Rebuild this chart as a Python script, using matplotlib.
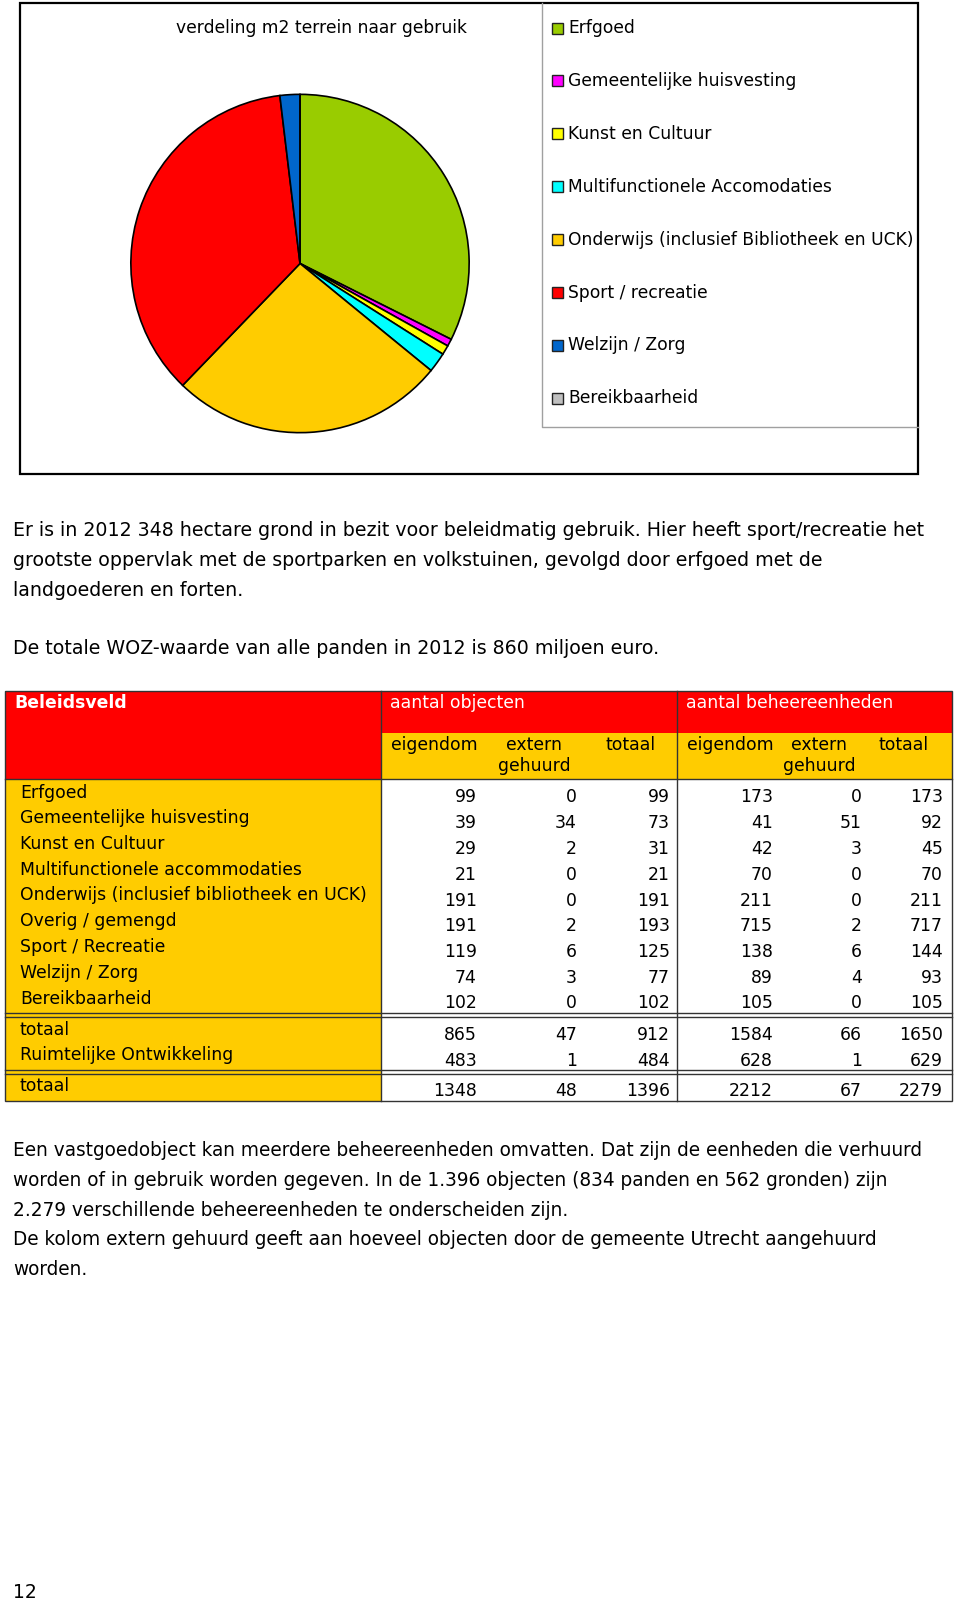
import matplotlib
matplotlib.use('Agg')
from matplotlib import pyplot as plt
from matplotlib.patches import Rectangle

# pie: share of m2 terrain per use (percent)
pie_labels = ['Erfgoed', 'Gemeentelijke huisvesting', 'Kunst en Cultuur',
              'Multifunctionele Accomodaties', 'Onderwijs (inclusief Bibliotheek en UCK)',
              'Sport / recreatie', 'Welzijn / Zorg', 'Bereikbaarheid']
pie_values = [32.4, 0.7, 0.9, 1.9, 26.3, 35.9, 1.9, 0.0]
pie_colors = ['#99CC00', '#FF00FF', '#FFFF00', '#00FFFF', '#FFCC00', '#FF0000', '#0066CC', '#C0C0C0']

# table
row_labels = ['Erfgoed', 'Gemeentelijke huisvesting', 'Kunst en Cultuur',
              'Multifunctionele accommodaties', 'Onderwijs (inclusief bibliotheek en UCK)',
              'Overig / gemengd', 'Sport / Recreatie', 'Welzijn / Zorg', 'Bereikbaarheid']
obj_eigendom = [99, 39, 29, 21, 191, 191, 119, 74, 102]
obj_extern = [0, 34, 2, 0, 0, 2, 6, 3, 0]
obj_totaal = [99, 73, 31, 21, 191, 193, 125, 77, 102]
beh_eigendom = [173, 41, 42, 70, 211, 715, 138, 89, 105]
beh_extern = [0, 51, 3, 0, 0, 2, 6, 4, 0]
beh_totaal = [173, 92, 45, 70, 211, 717, 144, 93, 105]

sub_labels = ['totaal', 'Ruimtelijke Ontwikkeling']
sub_values = [[865, 47, 912, 1584, 66, 1650],
              [483, 1, 484, 628, 1, 629]]
grand_label = 'totaal'
grand_values = [1348, 48, 1396, 2212, 67, 2279]

group_titles = ['aantal objecten', 'aantal beheereenheden']
sub_headers = ['eigendom', 'extern\ngehuurd', 'totaal']

para1 = ['Er is in 2012 348 hectare grond in bezit voor beleidmatig gebruik. Hier heeft sport/recreatie het',
         'grootste oppervlak met de sportparken en volkstuinen, gevolgd door erfgoed met de',
         'landgoederen en forten.']
para2 = 'De totale WOZ-waarde van alle panden in 2012 is 860 miljoen euro.'
para3 = ['Een vastgoedobject kan meerdere beheereenheden omvatten. Dat zijn de eenheden die verhuurd',
         'worden of in gebruik worden gegeven. In de 1.396 objecten (834 panden en 562 gronden) zijn',
         '2.279 verschillende beheereenheden te onderscheiden zijn.',
         'De kolom extern gehuurd geeft aan hoeveel objecten door de gemeente Utrecht aangehuurd',
         'worden.']

RED = '#FF0000'
YEL = '#FFCC00'
LINE = '#333333'

plt.rcParams['font.family'] = ['DejaVu Sans']
fig = plt.figure(figsize=(9.6, 16), dpi=100)
fig.patch.set_facecolor('white')

# page axes in pixel coordinates
ax = fig.add_axes([0, 0, 1, 1])
ax.set_xlim(0, 960)
ax.set_ylim(1600, 0)
ax.axis('off')

# chart frame + legend frame
ax.add_patch(Rectangle((20, 3), 898, 471, fill=False, edgecolor='black', lw=1.6))
ax.plot([542, 542, 918], [3, 427, 427], color='#A0A0A0', lw=1)
ax.text(321, 28, 'verdeling m2 terrein naar gebruik', ha='center', va='center', fontsize=12.35)

for i, (name, col) in enumerate(zip(pie_labels, pie_colors)):
    y = 28 + i * 52.9
    ax.add_patch(Rectangle((551.5, y - 5.5), 11, 11, facecolor=col, edgecolor='#222222', lw=1))
    ax.text(568, y, name, ha='left', va='center', fontsize=12.35)

# pie
cx, cy, r = 300, 263.5, 170
pax = fig.add_axes([(cx - r) / 960, 1 - (cy + r) / 1600, 2 * r / 960, 2 * r / 1600])
pax.pie(pie_values, colors=pie_colors, startangle=90, counterclock=False,
        wedgeprops=dict(edgecolor='black', linewidth=1.2))
pax.set_xlim(-1.005, 1.005)
pax.set_ylim(-1.005, 1.005)
pax.axis('off')

# paragraphs
for i, line in enumerate(para1):
    ax.text(13, 531 + i * 29.6, line, ha='left', va='center', fontsize=13.65)
ax.text(13, 649, para2, ha='left', va='center', fontsize=13.65)

# table
L, R, C1, C2 = 5, 952, 381, 677
TOP, H1, H2 = 691, 733, 779
B1, B2, BOT = 1015, 1072, 1101
num_x = [477, 577, 670, 773, 862, 943]
fs = 12.4

ax.add_patch(Rectangle((L, TOP), C1 - L, H2 - TOP, facecolor=RED, lw=0))
ax.add_patch(Rectangle((C1, TOP), R - C1, H1 - TOP, facecolor=RED, lw=0))
ax.add_patch(Rectangle((C1, H1), R - C1, H2 - H1, facecolor=YEL, lw=0))
ax.add_patch(Rectangle((L, H2), C1 - L, BOT - H2, facecolor=YEL, lw=0))

ax.text(14, 703, 'Beleidsveld', color='white', fontweight='bold', ha='left', va='center', fontsize=fs)
for g, (title, gx) in enumerate(zip(group_titles, [C1, C2])):
    ax.text(gx + 9, 703, title, color='white', ha='left', va='center', fontsize=fs)
    ax.text(gx + 10, 745, sub_headers[0], ha='left', va='center', fontsize=fs)
    ax.text(num_x[3 * g + 1] - 43, 755.5, sub_headers[1], ha='center', va='center',
            fontsize=fs, linespacing=1.2)
    ax.text(num_x[3 * g + 2] - 14, 745, sub_headers[2], ha='right', va='center', fontsize=fs)

body = list(zip(obj_eigendom, obj_extern, obj_totaal, beh_eigendom, beh_extern, beh_totaal))
for i, (lab, vals) in enumerate(zip(row_labels, body)):
    y = 797.5 + i * 25.75
    ax.text(20, y - 5, lab, ha='left', va='center', fontsize=fs)
    for x, v in zip(num_x, vals):
        ax.text(x, y, str(v), ha='right', va='center', fontsize=fs)

for i, (lab, vals) in enumerate(zip(sub_labels, sub_values)):
    y = 1035 + i * 25.5
    ax.text(20, y - 5, lab, ha='left', va='center', fontsize=fs)
    for x, v in zip(num_x, vals):
        ax.text(x, y, str(v), ha='right', va='center', fontsize=fs)

ax.text(20, 1086, grand_label, ha='left', va='center', fontsize=fs)
for x, v in zip(num_x, grand_values):
    ax.text(x, 1091, str(v), ha='right', va='center', fontsize=fs)

# table lines
ax.add_patch(Rectangle((L, TOP), R - L, BOT - TOP, fill=False, edgecolor=LINE, lw=1))
ax.plot([C1, C1], [TOP, BOT], color=LINE, lw=1)
ax.plot([C2, C2], [TOP, BOT], color=LINE, lw=1)
ax.plot([L, R], [H2, H2], color=LINE, lw=1)
for yb in (B1, B2):
    ax.plot([L, R], [yb - 1.7, yb - 1.7], color=LINE, lw=1)
    ax.plot([L, R], [yb + 1.7, yb + 1.7], color=LINE, lw=1)

for i, line in enumerate(para3):
    ax.text(13, 1151 + i * 29.6, line, ha='left', va='center', fontsize=13.35)

ax.text(13, 1592, '12', ha='left', va='center', fontsize=13.5)

fig.savefig('out.png', dpi=100, facecolor='white')
